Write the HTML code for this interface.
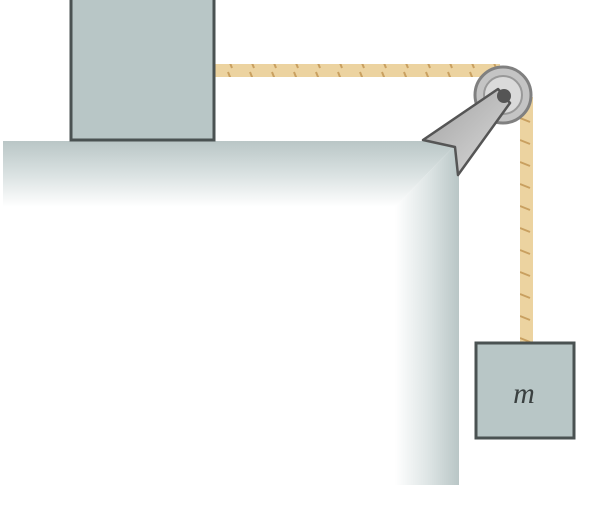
<!DOCTYPE html>
<html><head><style>
html,body{margin:0;padding:0;background:#fff;width:594px;height:507px;overflow:hidden}
</style></head><body>
<svg width="594" height="507" viewBox="0 0 594 507">
<defs>
<linearGradient id="topg" x1="0" y1="0" x2="0" y2="1">
<stop offset="0" stop-color="#b9c6c6"/><stop offset="0.55" stop-color="#dde4e4"/><stop offset="1" stop-color="#ffffff"/>
</linearGradient>
<linearGradient id="sideg" gradientUnits="userSpaceOnUse" x1="395" y1="0" x2="459" y2="0">
<stop offset="0" stop-color="#ffffff"/><stop offset="0.5" stop-color="#dfe6e6"/><stop offset="1" stop-color="#b9c6c6"/>
</linearGradient>
<linearGradient id="brg" x1="0" y1="0" x2="1" y2="1">
<stop offset="0" stop-color="#a0a0a0"/><stop offset="1" stop-color="#dcdcdc"/>
</linearGradient>
<pattern id="ropeh" width="22" height="14" patternUnits="userSpaceOnUse">
<rect width="22" height="14" fill="#ecd3a0"/><line x1="8" y1="2" x2="12" y2="12" stroke="#c9a060" stroke-width="2"/>
</pattern>
<pattern id="ropev" width="14" height="22" patternUnits="userSpaceOnUse">
<rect width="14" height="22" fill="#ecd3a0"/><line x1="2" y1="8" x2="12" y2="12" stroke="#c9a060" stroke-width="2"/>
</pattern>
</defs>
<g>
<polygon points="3,141 459,141 395,207 3,207" fill="url(#topg)"/>
<polygon points="459,141 459,485 395,485 395,207" fill="url(#sideg)"/>
</g>
<rect x="215" y="64" width="285" height="13" fill="url(#ropeh)"/>
<rect x="520" y="97" width="13" height="247" fill="url(#ropev)"/>
<rect x="71" y="-2" width="143" height="142" fill="#b8c6c6" stroke="#4a5252" stroke-width="3"/>
<g>
<circle cx="503" cy="95" r="28" fill="#c4c4c4" stroke="#808080" stroke-width="3"/>
<circle cx="503" cy="95" r="19" fill="#dadada" stroke="#999" stroke-width="2"/>
<polygon points="423,140 498,89 510,103 458,175 455,147" fill="url(#brg)" stroke="#555" stroke-width="2.5" stroke-linejoin="round"/>
<circle cx="504" cy="96" r="7" fill="#555"/>
</g>
<rect x="476" y="343" width="98" height="95" fill="#b8c6c6" stroke="#4a5252" stroke-width="3"/>
<text x="524" y="403" text-anchor="middle" font-family="Liberation Serif, serif" font-style="italic" font-size="30" fill="#3a4040">m</text>
</svg>
</body></html>
